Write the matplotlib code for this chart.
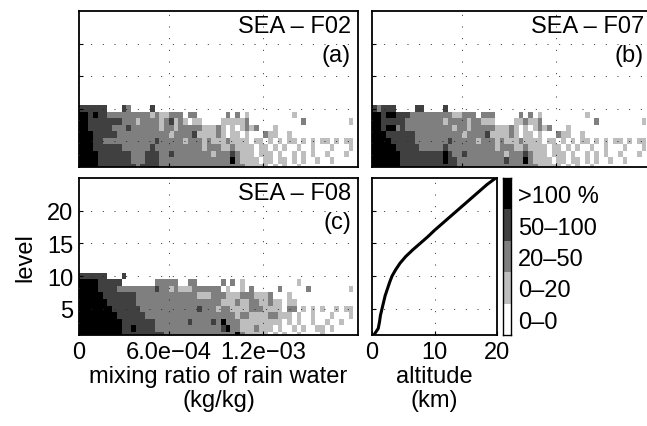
import numpy as np
import matplotlib
matplotlib.use("Agg")
import matplotlib.pyplot as plt
from matplotlib.colors import ListedColormap, BoundaryNorm

plt.rcParams['font.family'] = ['Liberation Sans', 'DejaVu Sans']

# category per cell: 0 = 0-0, 1 = 0-20, 2 = 20-50, 3 = 50-100, 4 = >100 %
# rows listed from level 11 (top) down to level 1, 59 bins of mixing ratio
f02_rows = [
    "0000000000 0000000000 0000000000 0000000000 0000000000 000000000",
    "3333330003 2000030000 0000000000 0000000000 0000000000 000000000",
    "4434332222 2222212112 2202200000 0202010000 0000010000 000000000",
    "4433333332 2212222123 1210110000 1111120000 0000000200 000000010",
    "4433333222 3222222122 1222221112 1010121200 0100000000 000000000",
    "4443333322 2222222221 2222311112 1011010002 1100100000 000000000",
    "4443322222 2222223222 2212221211 1211110110 1010110101 011010110",
    "4443333332 2222232222 2222221222 1121111011 0101001001 000100010",
    "4444333333 3222333223 2222222212 2232111011 1010010101 001000100",
    "4444333333 3222333222 2222222222 2242111101 1011010100 100100000",
    "4444333333 3323333222 2222222222 2222211111 0101001000 000000000",
]
f07_rows = [
    "0000000000 0000000000 0000000000 0000000000 0000000000 000000000",
    "3233300003 3000030000 0000000000 0000000000 0000000000 000000000",
    "4434433322 2222222112 2202220000 0202010000 0000010000 000000000",
    "4433333222 2222212222 1221110000 1121120000 0000000200 000000010",
    "4434423222 2222222122 1222221112 1010121200 0100000000 000000000",
    "4443333332 2222222221 2222311112 1011010002 1100100000 000000000",
    "4444333332 2222223222 2212221211 1211110110 1010110101 011010110",
    "4444433333 2222232222 2222221222 1121111011 0101001001 000100010",
    "4444443333 3333343223 2222222212 2232111011 1010010101 001000100",
    "4444443333 3333343322 2222222232 2242111101 1011010100 100100000",
    "4444443333 3333333322 2222222222 2222211111 0101001000 000000000",
]
f08_rows = [
    "0000000000 0000000000 0000000000 0000000000 0000000000 000000000",
    "3333330003 0000000000 0000000000 0000000000 0000000000 000000000",
    "4444333330 0000002222 2002200000 2020100000 0000001000 000000000",
    "4444333322 2222223221 2111222222 0100102000 0020000020 000000010",
    "4444433333 3322222222 2222211122 2111222111 2000100000 000000000",
    "4444443333 3322222222 2222222222 1112112211 2110110000 000000000",
    "4444444333 3332222222 2222232221 2211112221 1110220101 010010110",
    "4444444433 3333222222 2222222222 2221221111 2211101001 000100010",
    "4444444443 3333332222 2223222232 4222111111 1110101001 001001000",
    "4444444443 3433332222 2222222222 3422111211 1010010100 110100000",
    "4444444443 3333333322 2222222222 2224211111 0101001000 010000000",
]

panel_titles = ["SEA \u2013 F02", "SEA \u2013 F07", "SEA \u2013 F08"]
panel_tags = ["(a)", "(b)", "(c)"]

levels = np.arange(1, 26)
altitude_km = [0.3, 1.0, 1.2, 1.35, 1.6, 1.85, 2.1, 2.45, 2.8, 3.2, 3.8, 4.5,
               5.4, 6.5, 7.7, 8.9, 10.0, 11.2, 12.4, 13.6, 14.8, 16.0, 17.2,
               18.4, 19.8]

cat_labels = ["0\u20130", "0\u201320", "20\u201350", "50\u2013100", ">100 %"]
cat_colors = ["#ffffff", "#bebebe", "#7f7f7f", "#404040", "#000000"]

bin_width = 3e-5
qr_edges = bin_width * np.arange(1, 61)
lev_edges = np.arange(0.5, 12.5, 1.0)

cmap = ListedColormap(cat_colors)
norm = BoundaryNorm(np.arange(-0.5, 5.5, 1), cmap.N)

FS = 17
W, H = 647, 427
fig = plt.figure(figsize=(W / 100, H / 100), dpi=100)


def px_axes(x0, y0, x1, y1):
    return fig.add_axes([x0 / W, 1 - y1 / H, (x1 - x0) / W, (y1 - y0) / H])


def style(ax):
    ax.tick_params(direction='in', length=3, width=0.8, labelsize=FS, pad=4)
    for s in ax.spines.values():
        s.set_linewidth(1.3)
    ax.grid(True, color='0.15', linewidth=0.7, linestyle=(0, (1, 11)))
    ax.set_axisbelow(False)


def to_grid(rows):
    g = np.array([[int(c) for c in r.replace(" ", "")] for r in rows])
    assert g.shape == (11, 59), g.shape
    return g[::-1]


boxes = [(79, 12, 358, 168), (372, 12, 651, 168), (79, 179, 358, 336)]
for i, rows in enumerate([f02_rows, f07_rows, f08_rows]):
    ax = px_axes(*boxes[i])
    ax.pcolormesh(qr_edges, lev_edges, to_grid(rows), cmap=cmap, norm=norm)
    ax.set_xlim(qr_edges[0], qr_edges[-1])
    ax.set_ylim(1, 25)
    ax.set_xticks([qr_edges[0], 6e-4, 1.2e-3])
    ax.set_yticks([5, 10, 15, 20])
    style(ax)
    ax.text(0.975, 0.975, panel_titles[i], transform=ax.transAxes,
            ha='right', va='top', fontsize=FS)
    ax.text(0.975, 0.79, panel_tags[i], transform=ax.transAxes,
            ha='right', va='top', fontsize=FS)
    if i == 2:
        ax.set_xticklabels(["0", "6.0e\u221204", "1.2e\u221203"])
        ax.set_xlabel("mixing ratio of rain water\n(kg/kg)", fontsize=FS,
                      labelpad=2, linespacing=1.1)
        ax.set_ylabel("level", fontsize=FS, labelpad=8)
    else:
        ax.set_xticklabels([])
        ax.set_yticklabels([])

# altitude vs level
ax = px_axes(372, 179, 497, 336)
ax.plot(altitude_km, levels, color='black', linewidth=2.2)
ax.set_xlim(0, 20)
ax.set_ylim(1, 25)
ax.set_xticks([0, 10, 20])
ax.set_yticks([5, 10, 15, 20])
ax.set_yticklabels([])
style(ax)
ax.set_xlabel("altitude\n(km)", fontsize=FS, labelpad=2, linespacing=1.1)

# colour key
cax = px_axes(503, 179, 511, 336)
cax.pcolormesh([0, 1], np.arange(6), np.arange(5)[:, None], cmap=cmap, norm=norm)
cax.set_xticks([])
cax.yaxis.tick_right()
cax.set_yticks(np.arange(5) + 0.5)
cax.set_yticklabels(cat_labels)
cax.tick_params(axis='y', length=0, labelsize=FS, pad=5)
for s in cax.spines.values():
    s.set_linewidth(1.0)

fig.savefig("out.png", dpi=100)
